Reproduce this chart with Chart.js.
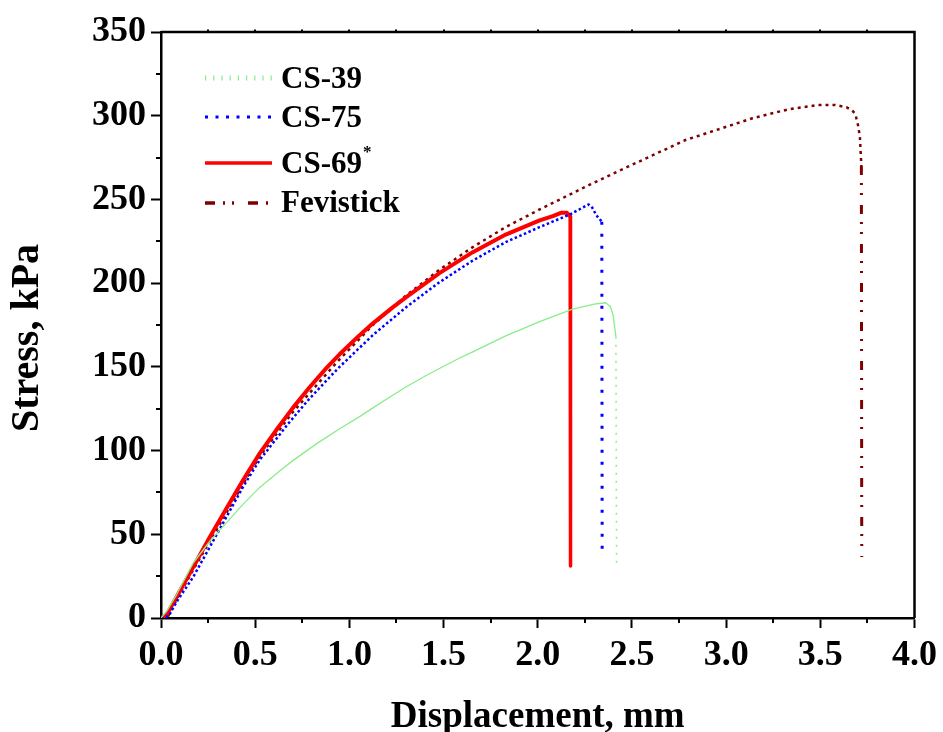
<!DOCTYPE html>
<html>
<head>
<meta charset="utf-8">
<script src="https://cdn.jsdelivr.net/npm/chart.js@4/dist/chart.umd.min.js"></script>
<style>
  html, body { margin: 0; padding: 0; background: #ffffff; }
  #wrap { width: 943px; height: 732px; }
</style>
</head>
<body>
<div id="wrap"><canvas id="chart" width="943" height="732"></canvas></div>
<script>
// Stress–displacement curves of the adhesive samples (displacement in mm, stress in kPa)
const dispCS39   = [0, 0.03, 0.083, 0.172, 0.26, 0.348, 0.436, 0.524, 0.648, 0.70, 0.825, 0.948, 1.05, 1.125, 1.23, 1.30, 1.41, 1.478, 1.58, 1.655, 1.83, 2.01, 2.185, 2.30, 2.36, 2.385, 2.40, 2.415, 2.418];
const stressCS39 = [0, 4, 14, 33, 46, 57, 68, 78, 89.5, 94, 104, 113, 120, 125.5, 133, 138, 145, 149, 155, 159, 168.5, 177, 184.5, 187.5, 188.3, 186, 181, 168, 33];

const dispCS75   = [0, 0.04, 0.083, 0.172, 0.26, 0.348, 0.436, 0.524, 0.675, 0.78, 0.88, 0.948, 1.125, 1.30, 1.478, 1.655, 1.83, 2.01, 2.17, 2.27, 2.29, 2.31, 2.34, 2.342];
const stressCS75 = [0, 1, 9.7, 24.7, 42.6, 60.5, 78.4, 94.4, 116, 130, 142, 150, 169, 185.5, 200.5, 213.5, 224.5, 233.5, 241, 247, 245, 240.7, 236.7, 37];

const dispCS69   = [0, 0.03, 0.083, 0.172, 0.26, 0.348, 0.436, 0.524, 0.62, 0.70, 0.79, 0.88, 0.948, 1.05, 1.125, 1.23, 1.30, 1.478, 1.655, 1.83, 2.01, 2.08, 2.123, 2.155, 2.172, 2.174];
const stressCS69 = [0, 2, 12.7, 30.6, 48.5, 65.5, 82.4, 98.3, 113.5, 125.5, 138, 149.5, 157.5, 168.5, 176, 185.5, 191.5, 206, 218.5, 229, 237.5, 240, 242, 242, 240, 31];

const dispFevi   = [0, 0.04, 0.083, 0.172, 0.26, 0.348, 0.436, 0.524, 0.62, 0.70, 0.88, 0.948, 1.125, 1.30, 1.478, 1.655, 1.83, 2.01, 2.27, 2.43, 2.785, 3.14, 3.33, 3.40, 3.49, 3.58, 3.64, 3.67, 3.686, 3.70, 3.71, 3.718, 3.72];
const stressFevi = [0, 1.5, 11, 29, 46, 63, 80, 96.5, 111, 123, 146, 154.5, 175, 192.5, 208, 221.5, 233.5, 244, 258.5, 267, 285.5, 298.5, 303.8, 305, 306.4, 306.4, 305, 303, 301, 294.5, 287.5, 270, 36.5];

const seriesNames = ['CS-39', 'CS-75', 'CS-69', 'Fevistick'];
const xTickValues = [0, 0.5, 1.0, 1.5, 2.0, 2.5, 3.0, 3.5, 4.0];
const yTickValues = [0, 50, 100, 150, 200, 250, 300, 350];

const pairs = (xs, ys) => xs.map((x, i) => ({ x: x, y: ys[i] }));

// a segment that runs straight down is the failure drop of a curve
const isDrop = ctx => Math.abs(ctx.p1.x - ctx.p0.x) < 3 && Math.abs(ctx.p1.y - ctx.p0.y) > 40;

const styles = [
  { color: '#8aec8a', curveW: 1.3, curveDash: [], dropW: 1.5, dropDash: [2, 6], legendW: 5, legendDash: [1.2, 7] },
  { color: '#0000ff', curveW: 2.5, curveDash: [2.5, 2.5], dropW: 3, dropDash: [3, 9], legendW: 3, legendDash: [3, 7.5] },
  { color: '#ff0000', curveW: 4, curveDash: [], dropW: 3.5, dropDash: [], legendW: 3.5, legendDash: [] },
  { color: '#800000', curveW: 2.5, curveDash: [3, 4], dropW: 3, dropDash: [9, 8, 2, 8, 2, 10], legendW: 3.5, legendDash: [10, 8, 2, 7, 2, 14] }
];
const seriesData = [pairs(dispCS39, stressCS39), pairs(dispCS75, stressCS75), pairs(dispCS69, stressCS69), pairs(dispFevi, stressFevi)];

const datasets = seriesData.map((data, i) => {
  const s = styles[i];
  return {
    label: seriesNames[i], data: data, showLine: true,
    borderColor: s.color, borderWidth: s.curveW, borderDash: s.curveDash,
    pointRadius: 0, tension: 0, fill: false, borderCapStyle: 'butt', borderJoinStyle: 'round',
    segment: {
      borderDash: ctx => isDrop(ctx) ? s.dropDash : s.curveDash,
      borderWidth: ctx => isDrop(ctx) ? s.dropW : s.curveW
    }
  };
});

const SERIF = '"Liberation Serif", "Times New Roman", serif';

// Frame, minor ticks, the y title and the line-sample legend
const decorations = {
  id: 'decorations',
  afterDraw(chart) {
    const { ctx, chartArea: a, scales: { x, y } } = chart;
    ctx.save();
    ctx.strokeStyle = '#000';
    ctx.lineWidth = 2.5;
    ctx.beginPath();
    ctx.moveTo(a.left, a.top); ctx.lineTo(a.right, a.top); ctx.lineTo(a.right, a.bottom);
    ctx.stroke();

    ctx.lineWidth = 2;
    ctx.beginPath();
    for (let v = 0.25; v < 4; v += 0.5) {
      const px = Math.round(x.getPixelForValue(v));
      ctx.moveTo(px, a.bottom); ctx.lineTo(px, a.bottom + 5);
    }
    for (let v = 0.25; v < 4; v += 0.25) {
      const px = Math.round(x.getPixelForValue(v));
      ctx.moveTo(px, a.top); ctx.lineTo(px, a.top - 2.5);
    }
    for (let v = 25; v < 350; v += 50) {
      const py = Math.round(y.getPixelForValue(v));
      ctx.moveTo(a.left - 5, py); ctx.lineTo(a.left, py);
    }
    ctx.stroke();

    // y axis title
    ctx.save();
    ctx.translate(28, 338);
    ctx.rotate(-Math.PI / 2);
    ctx.fillStyle = '#000';
    ctx.font = 'bold 40px ' + SERIF;
    ctx.textAlign = 'center';
    ctx.textBaseline = 'middle';
    ctx.fillText('Stress, kPa', 0, 0);
    ctx.restore();

    // legend
    const rowsY = [78, 117, 163, 203];
    const baseY = [88, 127, 173, 212];
    const x0 = 205, x1 = 272, tx = 281;
    styles.forEach((s, i) => {
      ctx.strokeStyle = s.color;
      ctx.lineWidth = s.legendW;
      ctx.setLineDash(s.legendDash);
      ctx.beginPath();
      ctx.moveTo(x0, rowsY[i]); ctx.lineTo(x1, rowsY[i]);
      ctx.stroke();
      ctx.setLineDash([]);
      ctx.fillStyle = '#000';
      ctx.font = 'bold 31px ' + SERIF;
      ctx.textBaseline = 'alphabetic';
      ctx.textAlign = 'left';
      ctx.fillText(seriesNames[i], tx, baseY[i]);
      if (seriesNames[i] === 'CS-69') {
        const w = ctx.measureText(seriesNames[i]).width;
        ctx.font = 'bold 17px ' + SERIF;
        ctx.fillText('*', tx + w + 1, 157);
      }
    });
    ctx.restore();
  }
};

new Chart(document.getElementById('chart'), {
  type: 'scatter',
  data: { datasets: datasets },
  options: {
    responsive: false,
    animation: false,
    devicePixelRatio: 1,
    layout: { padding: { top: 32, right: 27, left: 0, bottom: 0 } },
    plugins: { legend: { display: false }, tooltip: { enabled: false } },
    scales: {
      x: {
        type: 'linear', min: 0, max: 4,
        afterFit(s) { s.height = 114; },
        afterBuildTicks(s) { s.ticks = xTickValues.map(v => ({ value: v })); },
        ticks: {
          color: '#000', padding: 6,
          font: { family: SERIF, size: 36, weight: 'bold' },
          callback: v => Number(v).toFixed(1),
          maxRotation: 0, autoSkip: false
        },
        grid: { drawOnChartArea: false, tickLength: 10, tickWidth: 2, tickColor: '#000' },
        border: { display: true, color: '#000', width: 2.5 },
        title: { display: true, text: 'Displacement, mm', color: '#000',
                 font: { family: SERIF, size: 37, weight: 'bold' }, padding: { top: 0, bottom: -8 } }
      },
      y: {
        type: 'linear', min: 0, max: 350,
        afterFit(s) { s.width = 161; },
        afterBuildTicks(s) { s.ticks = yTickValues.map(v => ({ value: v })); },
        ticks: {
          color: '#000', padding: 5,
          font: { family: SERIF, size: 36, weight: 'bold' },
          autoSkip: false
        },
        grid: { drawOnChartArea: false, tickLength: 10, tickWidth: 2, tickColor: '#000' },
        border: { display: true, color: '#000', width: 2.5 },
        title: { display: false }
      }
    }
  },
  plugins: [decorations]
});
</script>
</body>
</html>
